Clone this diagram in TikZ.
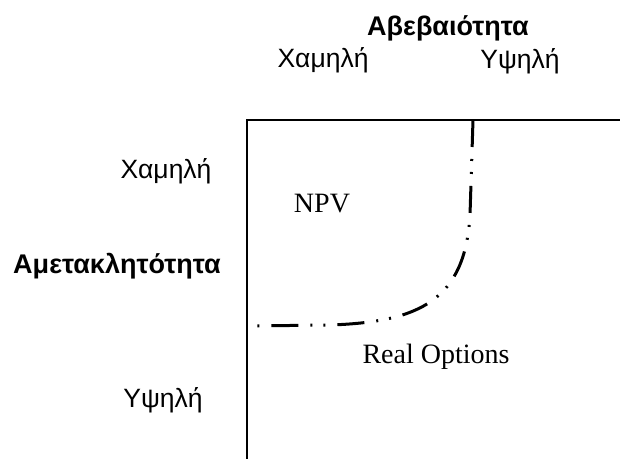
\documentclass[tikz,border=0pt]{standalone}
\usepackage{fontspec}
\setmainfont{Liberation Serif}
\newfontfamily\grk{Liberation Sans}
\begin{document}
\begin{tikzpicture}[x=1pt,y=-1pt,
  glabel/.style={font=\grk\fontsize{26.5}{30}\selectfont, inner sep=0pt, anchor=base},
  gtitle/.style={font=\grk\bfseries\fontsize{27}{30}\selectfont, inner sep=0pt, anchor=base},
  rlabel/.style={font=\fontsize{28}{32}\selectfont, inner sep=0pt, anchor=base},
  frame/.style={line width=1.5pt},
  boundary/.style={line width=3pt, dash pattern=on 27pt off 12pt on 2pt off 11pt on 2pt off 12pt}]
\useasboundingbox (0,0) rectangle (620,458);
% frame
\coordinate (tl) at (247,120);
\coordinate (tr) at (621,120);
\coordinate (bl) at (247,459);
\draw[frame] (tr) -- (tl) -- (bl);
% boundary curve
\coordinate (c0) at (473,120);
\coordinate (c1) at (470,215);
\coordinate (c2) at (330,325);
\coordinate (c3) at (248,326);
\draw[boundary] (c0) -- (c1) .. controls (465,300) and (420,322) .. (c2) -- (c3);
% labels
\node[gtitle] (unc) at (448,35) {Αβεβαιότητα};
\node[glabel] (ulow) at (323,67) {Χαμηλή};
\node[glabel] (uhigh) at (520,68) {Υψηλή};
\node[gtitle] (irr) at (117,273) {Αμετακλητότητα};
\node[glabel] (ilow) at (166,178) {Χαμηλή};
\node[glabel] (ihigh) at (163,407) {Υψηλή};
\node[rlabel] (npv) at (322,212) {NPV};
\node[rlabel] (ro) at (436,363) {Real Options};
\end{tikzpicture}
\end{document}
